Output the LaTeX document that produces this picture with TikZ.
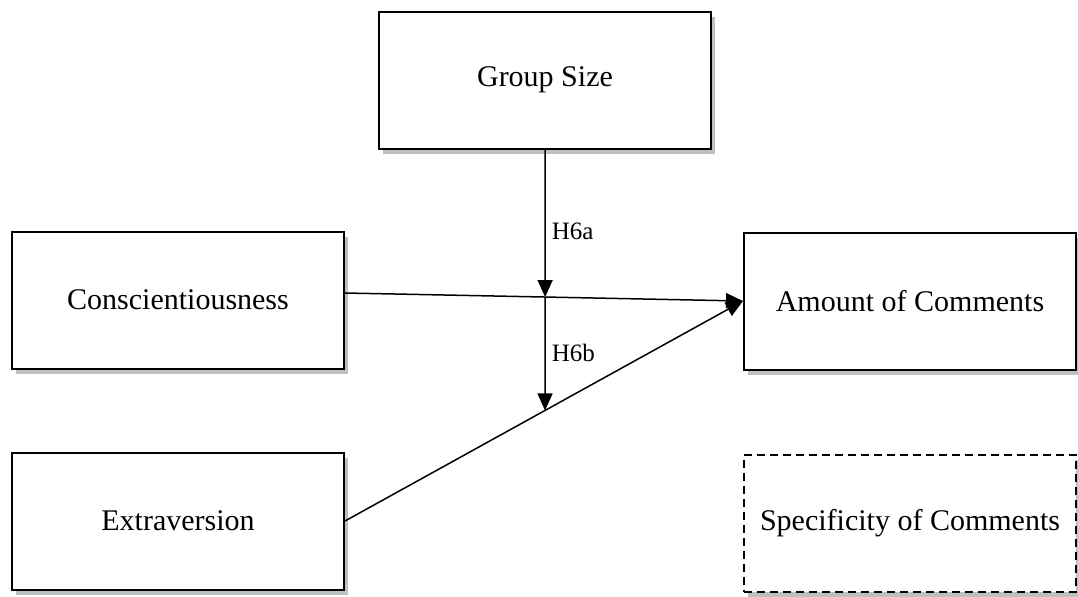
\documentclass[tikz,border=0pt]{standalone}
\usepackage{fontspec}
\setmainfont{Liberation Serif}
\usetikzlibrary{arrows.meta,shadows}

\begin{document}
\begin{tikzpicture}[x=0.5pt, y=-0.5pt, line width=0.75pt,
  box/.style={draw, line width=1pt, fill=white, inner sep=0pt,
    minimum width=166pt, minimum height=68.5pt,
    font=\fontsize{15}{18}\selectfont,
    drop shadow={opacity=0.5, shadow xshift=2pt, shadow yshift=-2.5pt}},
  hyp/.style={font=\fontsize{12.5}{15}\selectfont, anchor=west, inner sep=0.5pt},
  link/.style={-{Triangle[length=8.5pt,width=7.5pt]}}]
  \useasboundingbox (0,0) rectangle (1078,596);
  % boxes
  \node[box] (gsize) at (545,80) {Group Size};
  \node[box] (consc) at (178,300) {Conscientiousness};
  \node[box] (extra) at (178,521) {Extraversion};
  \node[box] (amount) at (910,301) {Amount of Comments};
  \node[box, dashed, dash pattern=on 4pt off 2.5pt] (spec) at (910,523) {Specificity of Comments};
  % moderation points
  \coordinate (cstart) at ([yshift=3.5pt]consc.east);
  \coordinate (ta) at (intersection of cstart--amount.west and gsize.south--gsize.center);
  \coordinate (tb) at (intersection of extra.east--amount.west and gsize.south--gsize.center);
  % paths
  \draw[link] (cstart) -- (amount.west);
  \draw[link] (extra.east) -- (amount.west);
  \draw[link] (gsize.south) -- (ta);
  \draw[link] (ta) -- (tb);
  \node[hyp] (h6a) at (550,231) {H6a};
  \node[hyp] (h6b) at (550,353) {H6b};
\end{tikzpicture}
\end{document}
